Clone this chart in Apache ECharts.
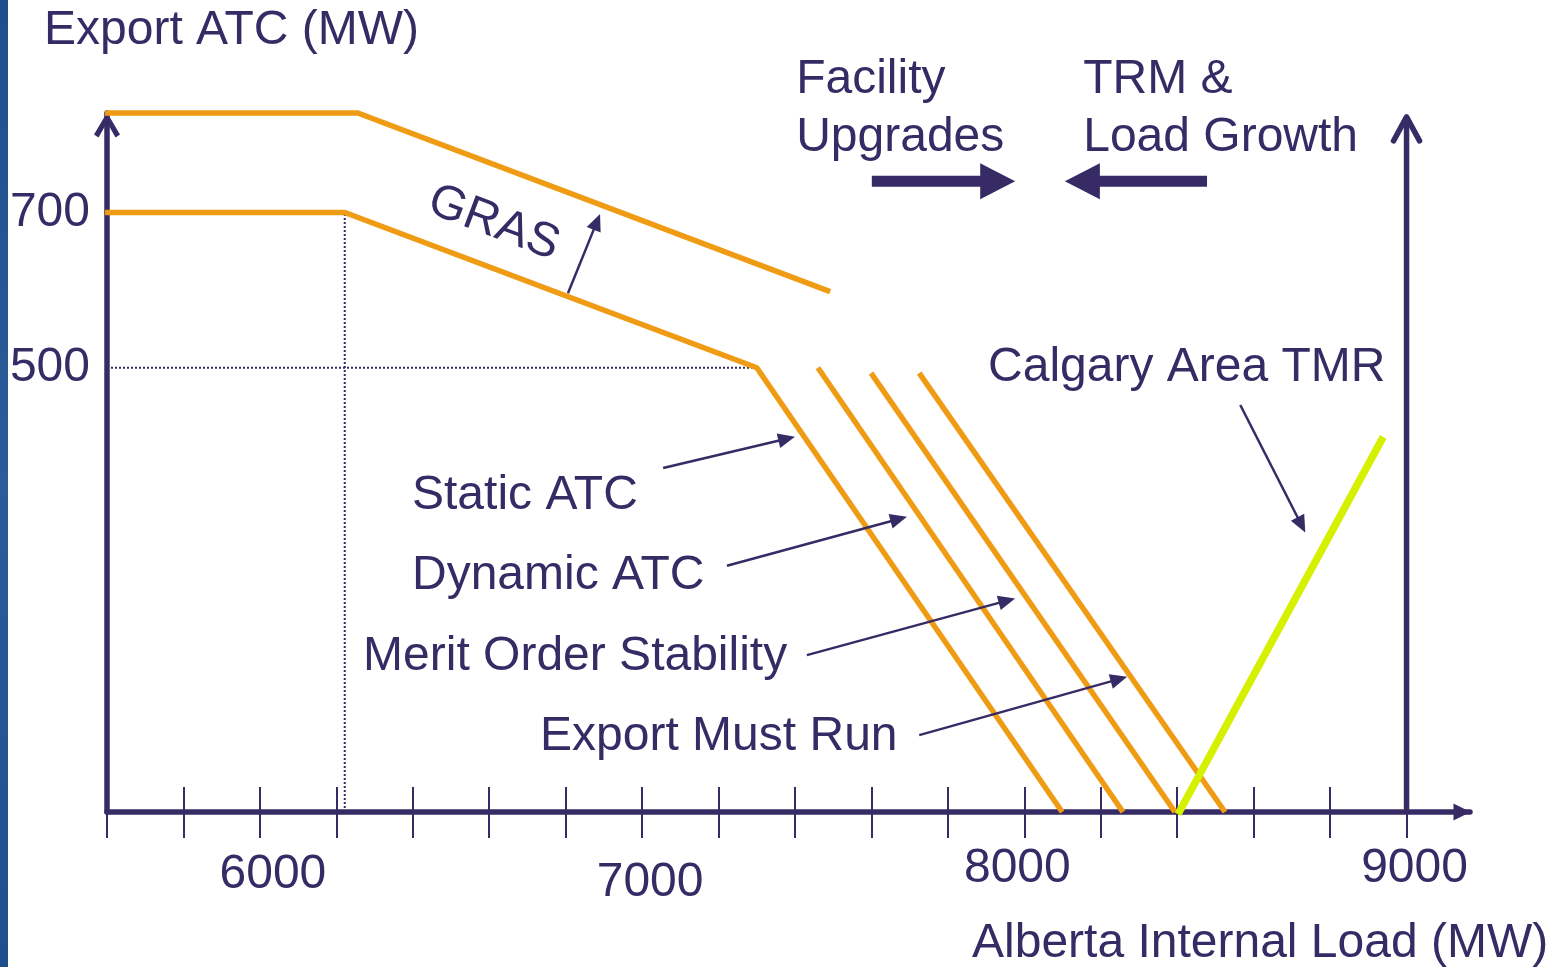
<!DOCTYPE html>
<html><head><meta charset="utf-8">
<script src="https://cdn.jsdelivr.net/npm/echarts@6/dist/echarts.min.js"></script>
<style>html,body{margin:0;padding:0;background:#fff}#c{width:1561px;height:967px}</style>
</head><body><div id="c"></div>
<script>
// ---------- data (MW) ----------
const xTicks = [5600,5800,6000,6200,6400,6600,6800,7000,7200,7400,7600,7800,8000,8200,8400,8600,8800,9000];
const xLabels = [6000,7000,8000,9000];
const yLabels = [500,700];
const grasLimit = [[5595,828],[6256,828],[7492,598]];
const staticAtc = [[5595,700],[6222,700],[7300,500],[8099,-72]];
const dynamicAtc = [[7460,500],[8258,-72]];
const meritOrderStability = [[7599,493],[8394,-72]];
const exportMustRun = [[7725,493],[8525,-72]];
const calgaryAreaTmr = [[8402,-75],[8939,411]];
const guideVertical = [[6222,-72],[6222,700]];
const guideHorizontal = [[5600,500],[7300,500]];
// pointer arrows: [fromX, fromY, toX, toY]
const pointerArrows = [[6806,596,6890,698],[7055,371,7400,411],[7222,245,7693,308],[7431,130,7976,203],[7725,27,8269,102],[8565,452,8735,288]];
const shiftArrows = [[7601,740,7976,740],[8478,740,8106,740]];
const rightAxisArrow = [[9000,-72,9000,823]];
const annotationLabels = ['Facility','Upgrades','TRM &','Load Growth','GRAS','Calgary Area TMR','Static ATC','Dynamic ATC','Merit Order Stability','Export Must Run'];
const annotationAnchors = [[7403,871],[7403,796],[8154,871],[8154,796],[6612,686],[7905,500],[6398,335],[6398,232],[6270,128],[6733,25]];

// ---------- style ----------
const NAVY = '#372b66';
const ORANGE = '#ef9b13';
const GREEN = '#d5f000';
const FONT = '"Liberation Sans", Arial, sans-serif';
const FS = 48;

const chart = echarts.init(document.getElementById('c'), null, {renderer: 'canvas'});

function lineSeries(data, color, width, type) {
  return {type: 'line', data: data, symbol: 'none', clip: false, silent: true, z: 2,
    lineStyle: {color: color, width: width, type: type || 'solid', cap: 'butt', join: 'miter'}};
}

function arrowSeries(data, kind) {
  return {
    type: 'custom', data: data, clip: false, silent: true, z: 4,
    encode: {x: [0, 2], y: [1, 3]},
    renderItem: function (params, api) {
      const p1 = api.coord([api.value(0), api.value(1)]);
      const p2 = api.coord([api.value(2), api.value(3)]);
      const dx = p2[0] - p1[0], dy = p2[1] - p1[1];
      const len = Math.sqrt(dx * dx + dy * dy);
      const ux = dx / len, uy = dy / len, nx = -uy, ny = ux;
      if (kind === 'chevron') {
        const arm = 24, half = 13, w = 5.5;
        return {type: 'group', children: [
          {type: 'line', shape: {x1: p1[0], y1: p1[1], x2: p2[0], y2: p2[1]}, style: {stroke: NAVY, lineWidth: w}},
          {type: 'polyline', shape: {points: [
            [p2[0] - ux * arm + nx * half, p2[1] - uy * arm + ny * half], [p2[0], p2[1]],
            [p2[0] - ux * arm - nx * half, p2[1] - uy * arm - ny * half]]},
            style: {stroke: NAVY, lineWidth: w, lineCap: 'round', lineJoin: 'round', fill: null}}
        ]};
      }
      const shaft = kind === 'thick' ? 11 : 2.5;
      const hl = kind === 'thick' ? 35 : 17;
      const hw = kind === 'thick' ? 18 : 7.5;
      const bx = p2[0] - ux * hl, by = p2[1] - uy * hl;
      return {type: 'group', children: [
        {type: 'line', shape: {x1: p1[0], y1: p1[1], x2: bx + ux * 2, y2: by + uy * 2}, style: {stroke: NAVY, lineWidth: shaft}},
        {type: 'polygon', shape: {points: [[p2[0], p2[1]], [bx + nx * hw, by + ny * hw], [bx - nx * hw, by - ny * hw]]}, style: {fill: NAVY}}
      ]};
    }
  };
}

const textSeries = {
  type: 'custom', data: annotationAnchors, clip: false, silent: true, z: 5,
  encode: {x: 0, y: 1},
  renderItem: function (params, api) {
    const label = annotationLabels[params.dataIndex];
    const p = api.coord([api.value(0), api.value(1)]);
    let rotation = 0, align = 'left';
    if (label === 'GRAS') {
      const a = api.coord(grasLimit[1]), b = api.coord(grasLimit[2]);
      rotation = -Math.atan2(b[1] - a[1], b[0] - a[0]);
      align = 'center';
    }
    return {type: 'text', x: p[0], y: p[1], rotation: rotation,
      style: {text: label, fill: NAVY, font: FS + 'px ' + FONT, align: align, verticalAlign: 'middle'}};
  }
};

const axisTextStyle = {color: NAVY, fontSize: FS, fontFamily: FONT};
const lblStyle = {color: NAVY, fontSize: FS, fontFamily: FONT};

const option = {
  backgroundColor: '#ffffff',
  animation: false,
  grid: {left: 107, right: 91, top: 113, bottom: 155, containLabel: false},
  xAxis: [
    {type: 'value', min: 5600, max: 9166, position: 'bottom',
      axisLine: {show: true, onZero: false, symbol: ['none', 'triangle'], symbolSize: [17, 17], symbolOffset: [0, -8],
        lineStyle: {color: NAVY, width: 5.5}},
      axisTick: {show: true, customValues: xTicks, length: 26, lineStyle: {color: NAVY, width: 2}},
      axisLabel: {show: true, customValues: xLabels, margin: 33, color: NAVY, fontSize: FS, fontFamily: FONT,
        formatter: function (v) { return '{t' + v + '|' + String(v) + '}'; },
        rich: {
          t6000: Object.assign({padding: [6, 0, 0, 26]}, lblStyle),
          t7000: Object.assign({padding: [14, 0, 0, 16]}, lblStyle),
          t8000: Object.assign({padding: [0, 14, 0, 0]}, lblStyle),
          t9000: Object.assign({padding: [0, 0, 0, 16]}, lblStyle)
        }},
      splitLine: {show: false}},
    {type: 'value', min: 5600, max: 9166, position: 'bottom',
      axisLine: {show: false, onZero: false},
      axisTick: {show: true, inside: true, customValues: xTicks, length: 25, lineStyle: {color: NAVY, width: 2}},
      axisLabel: {show: false},
      splitLine: {show: false}}
  ],
  yAxis: [
    {type: 'value', min: -72, max: 828, position: 'left',
      axisLine: {show: true, onZero: false,
        symbol: ['none', 'path://M0,22 L13,0 L26,22 L21.5,25 L13,10 L4.5,25 Z'], symbolSize: [27, 25], symbolOffset: [0, -12],
        lineStyle: {color: NAVY, width: 5.5}},
      axisTick: {show: false},
      axisLabel: Object.assign({show: true, customValues: yLabels, margin: 17, padding: [0, 0, 6, 0]}, axisTextStyle),
      splitLine: {show: false}}
  ],
  graphic: [
    {type: 'rect', left: 0, top: 0, z: 10, shape: {width: 8, height: 967},
      style: {fill: new echarts.graphic.LinearGradient(0, 0, 1, 1, [{offset: 0, color: '#1d4f8c'}, {offset: 0.5, color: '#2a5d98'}, {offset: 1, color: '#1d4f8c'}])}},
    {type: 'text', x: 44, y: 31, z: 10, style: {text: 'Export ATC (MW)', fill: NAVY, font: FS + 'px ' + FONT, align: 'left', verticalAlign: 'middle'}},
    {type: 'text', x: 972, y: 944, z: 10, style: {text: 'Alberta Internal Load (MW)', fill: NAVY, font: FS + 'px ' + FONT, align: 'left', verticalAlign: 'middle'}}
  ],
  series: [
    lineSeries(guideVertical, NAVY, 2, [2, 2]),
    lineSeries(guideHorizontal, NAVY, 2, [2, 2]),
    lineSeries(grasLimit, ORANGE, 5.5),
    lineSeries(staticAtc, ORANGE, 5.5),
    lineSeries(dynamicAtc, ORANGE, 5.5),
    lineSeries(meritOrderStability, ORANGE, 5.5),
    lineSeries(exportMustRun, ORANGE, 5.5),
    lineSeries(calgaryAreaTmr, GREEN, 7.5),
    arrowSeries(pointerArrows, 'thin'),
    arrowSeries(shiftArrows, 'thick'),
    arrowSeries(rightAxisArrow, 'chevron'),
    textSeries
  ]
};
chart.setOption(option);
</script>
</body></html>
